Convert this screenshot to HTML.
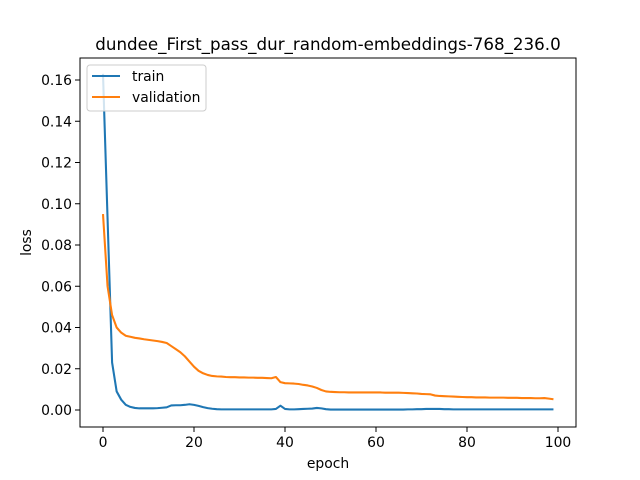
<!DOCTYPE html>
<html><head><meta charset="utf-8"><style>
body{margin:0;background:#fff}
svg{display:block;font-family:"DejaVu Sans","Liberation Sans",sans-serif}
</style></head><body>
<svg width="640" height="480" viewBox="0 0 640 480">
<rect width="640" height="480" fill="#fff"/>
<text x="328" y="50" text-anchor="middle" font-size="16.7">dundee_First_pass_dur_random-embeddings-768_236.0</text>
<g id="plot"></g>
<rect x="80" y="58" width="496" height="369" fill="none" stroke="#000" stroke-width="1"/>
<text x="328" y="468" text-anchor="middle" font-size="13.9">epoch</text>
<text transform="translate(31,242.5) rotate(-90)" text-anchor="middle" font-size="13.9">loss</text>
<g>
<rect x="87" y="65" width="119" height="46" rx="3" fill="#fff" fill-opacity="0.8" stroke="#ccc"/>
<line x1="92" y1="76" x2="120" y2="76" stroke="#1f77b4" stroke-width="2.08"/>
<text x="132" y="81" font-size="13.9">train</text>
<line x1="92" y1="97" x2="120" y2="97" stroke="#ff7f0e" stroke-width="2.08"/>
<text x="132" y="102" font-size="13.9">validation</text>
</g>
</svg>
<script>
const xTicks=[0,20,40,60,80,100];
const yTicks=[0.00,0.02,0.04,0.06,0.08,0.10,0.12,0.14,0.16];
const train=[0.163,0.093,0.023,0.009,0.005,0.0025,0.0015,0.001,0.0008,0.0008,
0.0008,0.0008,0.0009,0.0011,0.0013,0.0022,0.0023,0.0023,0.0025,0.0028,
0.0025,0.002,0.0014,0.0009,0.0006,0.0004,0.0003,0.0003,0.0003,0.0003,
0.0003,0.0003,0.0003,0.0003,0.0003,0.0003,0.0003,0.0003,0.0005,0.0021,
0.0005,0.0003,0.0003,0.0004,0.0005,0.0006,0.0007,0.001,0.0008,0.0004,
0.0002,0.0002,0.0002,0.0002,0.0002,0.0002,0.0002,0.0002,0.0002,0.0002,
0.0002,0.0002,0.0002,0.0002,0.0002,0.0002,0.0002,0.0003,0.0003,0.0004,
0.0004,0.0005,0.0005,0.0005,0.0005,0.0004,0.0004,0.0003,0.0003,0.0003,
0.0003,0.0003,0.0003,0.0003,0.0003,0.0003,0.0003,0.0003,0.0003,0.0003,
0.0003,0.0003,0.0003,0.0003,0.0003,0.0003,0.0003,0.0003,0.0003,0.0003];
const validation=[0.095,0.06,0.046,0.040,0.0375,0.036,0.0355,0.035,0.0347,0.0343,
0.034,0.0337,0.0334,0.033,0.0325,0.031,0.0295,0.028,0.026,0.0235,
0.021,0.019,0.0178,0.017,0.0165,0.0163,0.0162,0.016,0.0159,0.0159,
0.0158,0.0158,0.0157,0.0157,0.0156,0.0156,0.0155,0.0154,0.016,0.0135,
0.013,0.0129,0.0128,0.0126,0.0122,0.0119,0.0114,0.0107,0.0097,0.009,
0.0088,0.0087,0.0086,0.0086,0.0085,0.0085,0.0085,0.0085,0.0085,0.0085,
0.0085,0.0085,0.0084,0.0084,0.0084,0.0084,0.0083,0.0082,0.0081,0.008,
0.0078,0.0077,0.0076,0.007,0.0068,0.0067,0.0066,0.0065,0.0064,0.0063,
0.0062,0.0062,0.0061,0.0061,0.0061,0.006,0.006,0.006,0.006,0.0059,
0.0059,0.0059,0.0058,0.0058,0.0058,0.0057,0.0057,0.0058,0.0055,0.0052];
const NS='http://www.w3.org/2000/svg';
const g=document.getElementById('plot');
const xs=v=>103+(v/100)*455;
const ys=v=>410-v*2062.5;
function el(t,a){const e=document.createElementNS(NS,t);for(const k in a)e.setAttribute(k,a[k]);g.appendChild(e);return e;}
xTicks.forEach(t=>{
const l=el('line',{x1:xs(t),x2:xs(t),y1:427,y2:432,stroke:'#000'});


const tx=el('text',{x:xs(t),y:447,'text-anchor':'middle','font-size':13.9});tx.textContent=t;


});
yTicks.forEach(t=>{
const l=el('line',{x1:75,x2:80,y1:ys(t),y2:ys(t),stroke:'#000'});


const tx=el('text',{x:72,y:ys(t)+5,'text-anchor':'end','font-size':13.9});tx.textContent=t.toFixed(2);


});
function line(arr,c,name){
const p=el('polyline',{points:arr.map((v,i)=>xs(i)+','+ys(v)).join(' '),fill:'none',stroke:c,'stroke-width':2.08,'stroke-linejoin':'round'});


}
line(train,'#1f77b4','train-line');
line(validation,'#ff7f0e','validation-line');
</script>
</body></html>
